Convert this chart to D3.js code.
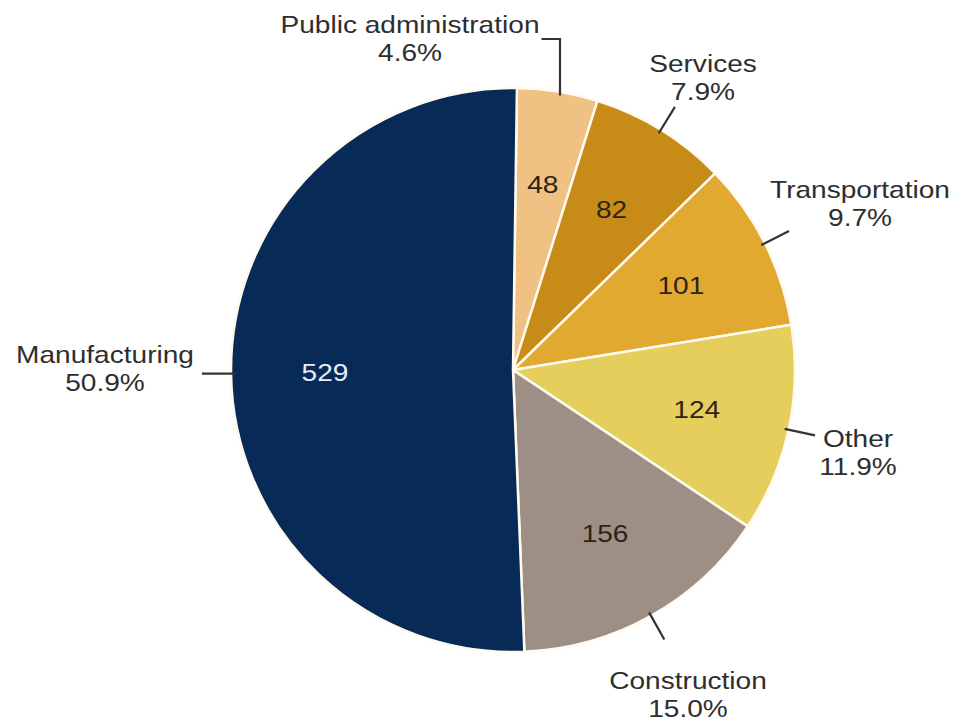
<!DOCTYPE html>
<html>
<head>
<meta charset="utf-8">
<script src="https://cdn.jsdelivr.net/npm/d3@7"></script>
<style>
  html, body { margin: 0; padding: 0; background: #ffffff; }
  svg { display: block; }
  text { font-family: "Liberation Sans", Arial, Helvetica, sans-serif; }
</style>
</head>
<body>
<svg id="chart" width="958" height="723"></svg>
<script>
// ---- data ----
const categories = ["Public administration", "Services", "Transportation", "Other", "Construction", "Manufacturing"];
const values = [48, 82, 101, 124, 156, 529];
const colors = ["#efc182", "#c98b17", "#e2a930", "#e5ce5b", "#9d8e86", "#082a56"];
const valueTextColors = ["#2b2417", "#2b2417", "#2b2417", "#2b2417", "#2b2417", "#e6edf6"];

// ---- layout (positions of outside labels: centre x, first baseline y) ----
const labelPos = [[410, 33], [703, 72], [860, 198], [858, 447], [688, 689], [105, 363]];
const leaderType = ["elbow", "radial", "radial", "radial", "radial", "horizontal"];

const W = 958, H = 723;
const cx = 513, cy = 370, R = 282;
const FS = 24, SX = 1.17, LINE = 28;
const startOffset = 0.8 * Math.PI / 180;

const svg = d3.select("#chart");
const g = svg.append("g").attr("transform", `translate(${cx},${cy})`);

const total = d3.sum(values);
const data = categories.map((c, i) => ({ cat: c, value: values[i], color: colors[i], tc: valueTextColors[i], i }));

const pie = d3.pie().value(d => d.value).sort(null)
  .startAngle(startOffset).endAngle(startOffset + 2 * Math.PI);
const arcs = pie(data);
const arc = d3.arc().innerRadius(0).outerRadius(R);
const labelArc = d3.arc().innerRadius(188).outerRadius(188);

g.selectAll("path.slice").data(arcs).join("path")
  .attr("class", "slice")
  .attr("d", arc)
  .attr("fill", d => d.data.color)
  .attr("stroke", "#fffaf0")
  .attr("stroke-width", 2.5)
  .attr("stroke-linejoin", "round");

// inner values
g.selectAll("text.val").data(arcs).join("text")
  .attr("class", "val")
  .attr("transform", d => { const [x, y] = labelArc.centroid(d); return `translate(${x},${y}) scale(${SX},1)`; })
  .attr("text-anchor", "middle")
  .attr("dy", "0.35em")
  .attr("font-size", FS)
  .attr("fill", d => d.data.tc)
  .text(d => d.data.value);

// outside labels
const fmt = d3.format(".1f");
const outer = svg.append("g");
const labels = outer.selectAll("text.lab").data(arcs).join("text")
  .attr("class", "lab")
  .attr("transform", d => `translate(${labelPos[d.data.i][0]},${labelPos[d.data.i][1]}) scale(${SX},1)`)
  .attr("text-anchor", "middle")
  .attr("font-size", FS)
  .attr("fill", "#2e2e2e");
labels.append("tspan").attr("x", 0).attr("y", 0).text(d => d.data.cat);
labels.append("tspan").attr("x", 0).attr("y", LINE).text(d => fmt(d.data.value / total * 100) + "%");

// leader lines
const polar = (a, r) => [cx + r * Math.sin(a), cy - r * Math.cos(a)];
const lineGen = d3.line();
labels.each(function(d) {
  const i = d.data.i;
  const mid = (d.startAngle + d.endAngle) / 2;
  const firstLine = d3.select(this).select("tspan").node();
  const halfW = firstLine.getComputedTextLength() * SX / 2;
  const [lx, ly] = labelPos[i];
  let pts;
  if (leaderType[i] === "radial") {
    pts = [polar(mid, R - 4), polar(mid, R + 27)];
  } else if (leaderType[i] === "elbow") {
    const p = polar(mid, R - 4);
    const yLine = ly + 6;
    pts = [[p[0] + 3, p[1]], [p[0] + 3, yLine], [lx + halfW + 2, yLine]];
  } else {
    const p = polar(mid, R - 4);
    pts = [[lx + halfW + 8, p[1]], p];
  }
  outer.append("path")
    .attr("d", lineGen(pts))
    .attr("fill", "none")
    .attr("stroke", "#333333")
    .attr("stroke-width", 2.2);
});
</script>
</body>
</html>
